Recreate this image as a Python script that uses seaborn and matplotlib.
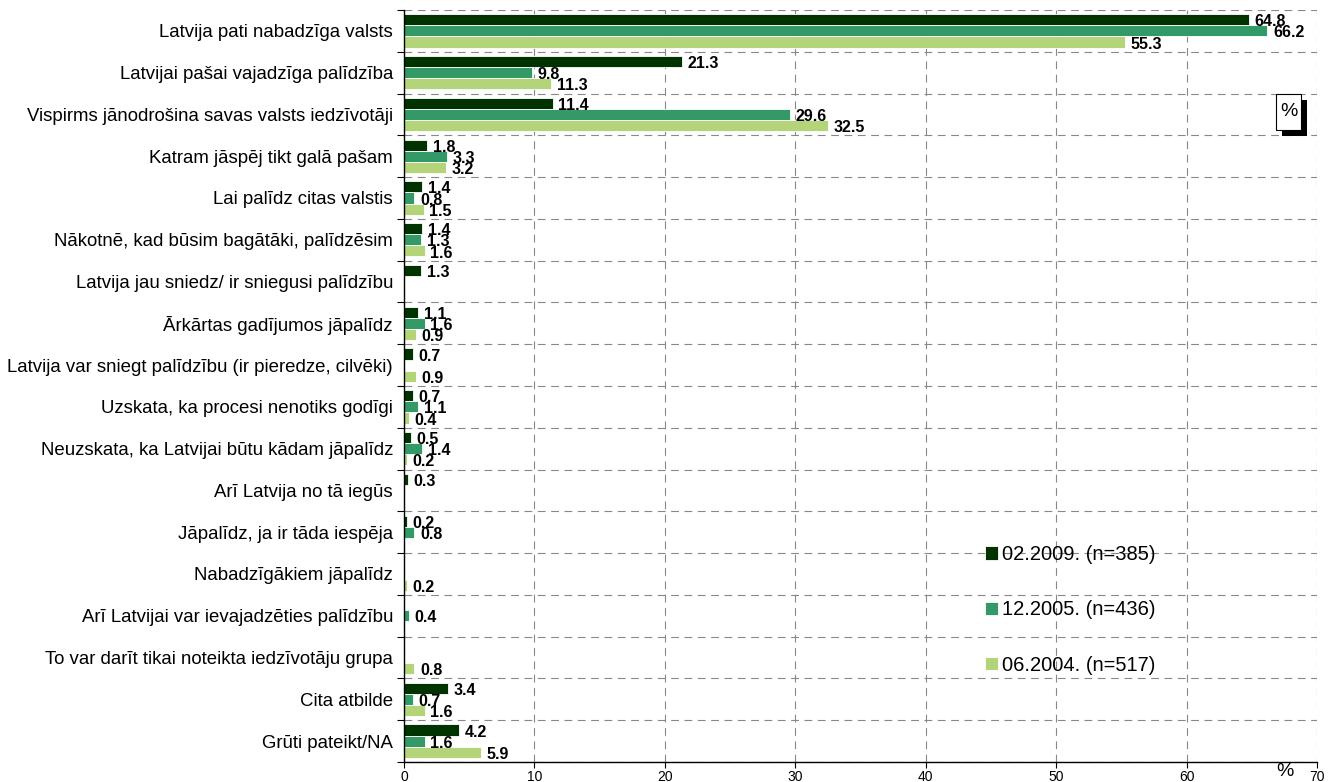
import numpy as np
import pandas as pd
import matplotlib
matplotlib.use("Agg")
import matplotlib.pyplot as plt
import seaborn as sns
from matplotlib.ticker import FixedLocator

categories = [
    "Latvija pati nabadzīga valsts",
    "Latvijai pašai vajadzīga palīdzība",
    "Vispirms jānodrošina savas valsts iedzīvotāji",
    "Katram jāspēj tikt galā pašam",
    "Lai palīdz citas valstis",
    "Nākotnē, kad būsim bagātāki, palīdzēsim",
    "Latvija jau sniedz/ ir sniegusi palīdzību",
    "Ārkārtas gadījumos jāpalīdz",
    "Latvija var sniegt palīdzību (ir pieredze, cilvēki)",
    "Uzskata, ka procesi nenotiks godīgi",
    "Neuzskata, ka Latvijai būtu kādam jāpalīdz",
    "Arī Latvija no tā iegūs",
    "Jāpalīdz, ja ir tāda iespēja",
    "Nabadzīgākiem jāpalīdz",
    "Arī Latvijai var ievajadzēties palīdzību",
    "To var darīt tikai noteikta iedzīvotāju grupa",
    "Cita atbilde",
    "Grūti pateikt/NA",
]
series_names = ["02.2009. (n=385)", "12.2005. (n=436)", "06.2004. (n=517)"]
nan = np.nan
v2009 = [64.8, 21.3, 11.4, 1.8, 1.4, 1.4, 1.3, 1.1, 0.7, 0.7, 0.5, 0.3, 0.2, nan, nan, nan, 3.4, 4.2]
v2005 = [66.2, 9.8, 29.6, 3.3, 0.8, 1.3, nan, 1.6, nan, 1.1, 1.4, nan, 0.8, nan, 0.4, nan, 0.7, 1.6]
v2004 = [55.3, 11.3, 32.5, 3.2, 1.5, 1.6, nan, 0.9, 0.9, 0.4, 0.2, nan, nan, 0.2, nan, 0.8, 1.6, 5.9]
x_ticks = [0, 10, 20, 30, 40, 50, 60, 70]

colors = ["#003300", "#339966", "#B4D47A"]

df = pd.DataFrame({
    "cat": categories * 3,
    "series": sum([[s] * len(categories) for s in series_names], []),
    "value": v2009 + v2005 + v2004,
})
df = df.dropna()

sns.set_style("white")
plt.rcParams["font.family"] = ["Liberation Sans", "DejaVu Sans"]
plt.rcParams["text.color"] = "black"
plt.rcParams["xtick.color"] = "black"
plt.rcParams["ytick.color"] = "black"
plt.rcParams["axes.labelcolor"] = "black"

fig = plt.figure(figsize=(13.39, 7.82), dpi=100)
ax = fig.add_axes([404 / 1339, 1 - 762 / 782, (1317 - 404) / 1339, (762 - 10) / 782])

sns.barplot(data=df, y="cat", x="value", hue="series", order=categories,
            hue_order=series_names, palette=colors, orient="h", width=0.8,
            saturation=1, edgecolor="white", linewidth=0.6, ax=ax, legend=True)

ax.set_xlim(0, 70)
ax.set_ylim(len(categories) - 0.5, -0.5)
ax.set_xlabel("")
ax.set_ylabel("")

# value labels
for cont in ax.containers:
    for bar in cont:
        w = bar.get_width()
        if np.isnan(w):
            continue
        yc = bar.get_y() + bar.get_height() / 2
        ax.annotate(f"{w:.1f}", xy=(w, yc), xytext=(4, -1.5), textcoords="offset points",
                    ha="left", va="center", fontsize=11.5, fontweight="bold", color="black")

# grid & ticks
ax.xaxis.set_major_locator(FixedLocator(x_ticks))
ax.set_xticklabels([str(t) for t in x_ticks], fontsize=10)
ax.yaxis.set_minor_locator(FixedLocator(np.arange(-0.5, len(categories), 1.0)))
ax.tick_params(axis="y", which="major", length=0, pad=8, labelsize=13.4, labelcolor="black")
ax.tick_params(axis="y", which="minor", length=5, width=0.8, color="black", left=True)
ax.tick_params(axis="x", which="major", length=4, width=0.8, color="black", bottom=True, pad=1.5,
               labelcolor="black")
ax.grid(False)
ax.grid(True, axis="x", which="major", linestyle=(0, (7, 5)), color="#888888", linewidth=0.8)
ax.grid(True, axis="y", which="minor", linestyle=(0, (7, 5)), color="#888888", linewidth=0.8)
ax.set_axisbelow(True)
for s in ["top", "right"]:
    ax.spines[s].set_visible(False)
for s in ["left", "bottom"]:
    ax.spines[s].set_color("black")
    ax.spines[s].set_linewidth(1.0)

# legend
handles, labels = ax.get_legend_handles_labels()
leg = ax.legend(handles, labels, loc="upper left", bbox_to_anchor=(967 / 1339, 1 - 527 / 782),
                bbox_transform=fig.transFigure, frameon=False, fontsize=14.5,
                handlelength=0.65, handleheight=0.65, handletextpad=0.2, labelspacing=1.8)
for t in leg.get_texts():
    t.set_color("black")

# "%" near x axis
fig.text(1285 / 1339, 1 - 771 / 782, "%", fontsize=14, ha="center", va="center")

# % box with shadow
fig.patches.append(plt.Rectangle((1282 / 1339, 1 - 136 / 782), 25 / 1339, 36 / 782,
                                 transform=fig.transFigure, facecolor="black", edgecolor="none", zorder=5))
fig.patches.append(plt.Rectangle((1276 / 1339, 1 - 130 / 782), 25 / 1339, 36 / 782,
                                 transform=fig.transFigure, facecolor="white", edgecolor="black",
                                 linewidth=0.8, zorder=6))
fig.text(1288.5 / 1339, 1 - 112 / 782, "%", fontsize=14, ha="center", va="center", zorder=7)

fig.savefig("out.png", dpi=100)
